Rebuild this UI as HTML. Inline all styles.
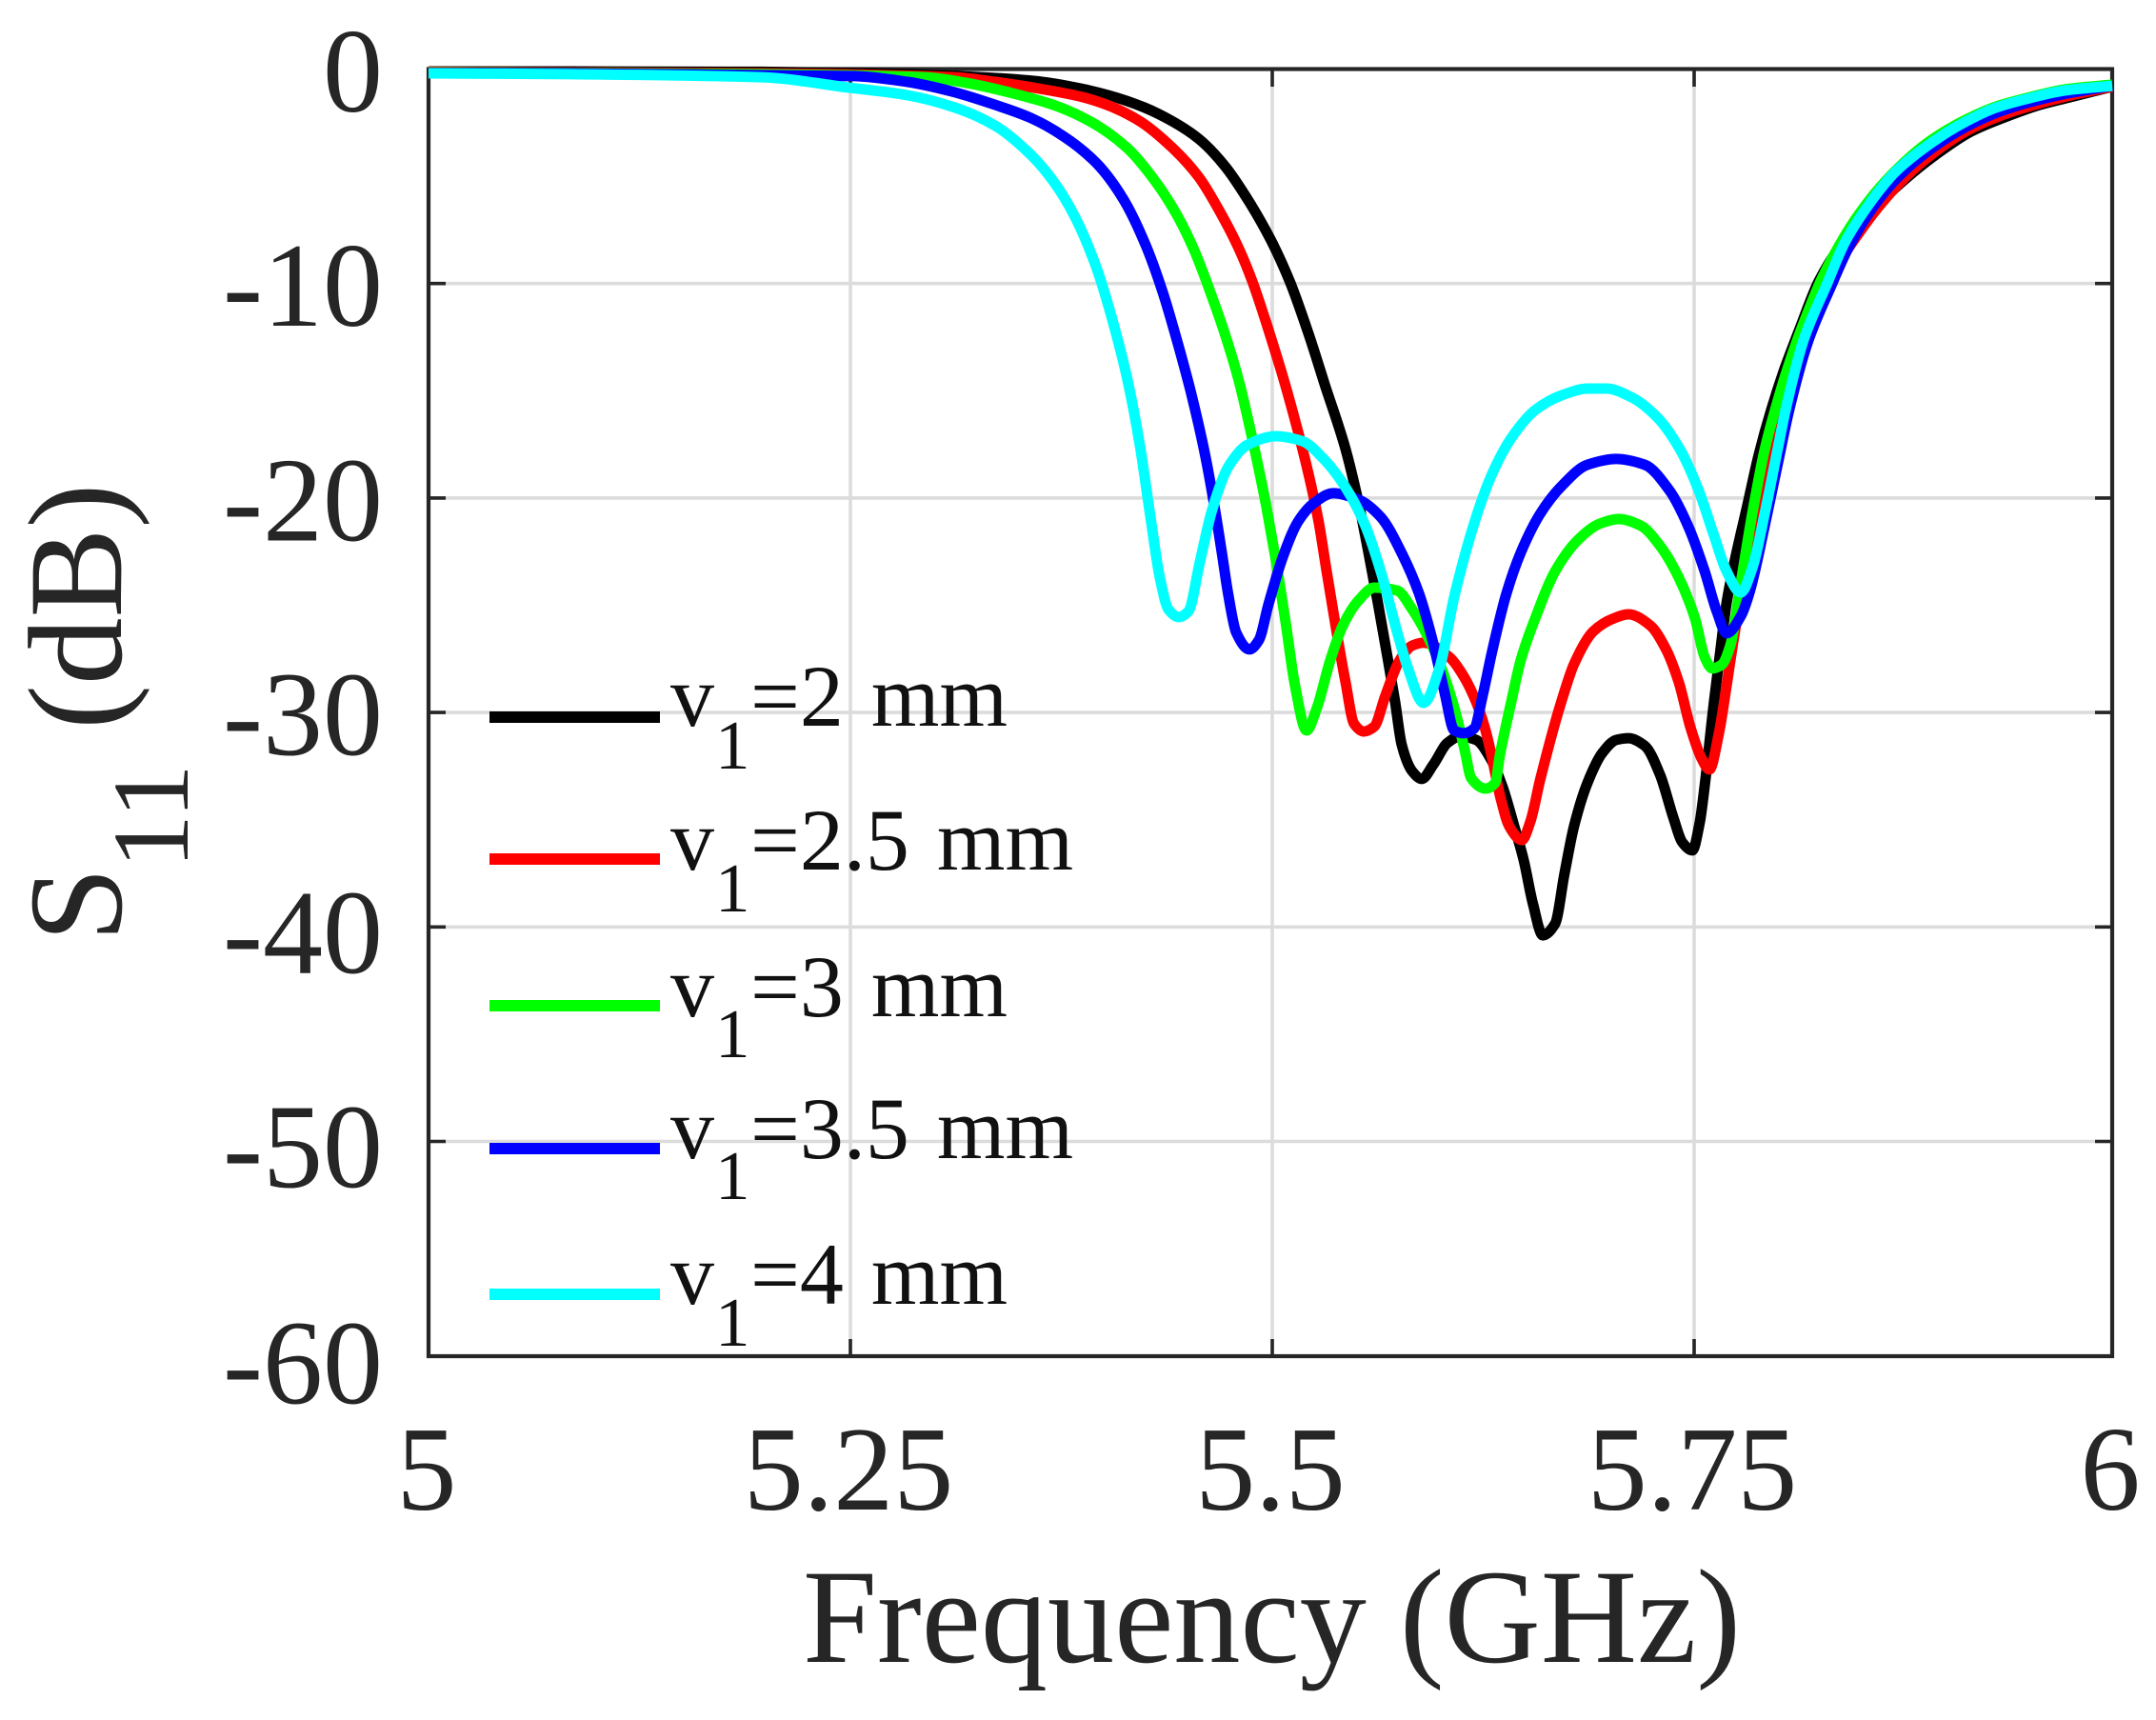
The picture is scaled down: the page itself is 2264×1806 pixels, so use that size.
<!DOCTYPE html>
<html>
<head>
<meta charset="utf-8">
<title>S11 vs Frequency</title>
<style>
html,body{margin:0;padding:0;background:#fff;}
svg{display:block;}
text{font-family:"Liberation Serif","Times New Roman",serif;}
</style>
</head>
<body>
<svg id="chart" xmlns="http://www.w3.org/2000/svg" width="2264" height="1806" viewBox="0 0 2264 1806">
  <rect x="0" y="0" width="2264" height="1806" fill="#ffffff"/>
  <g id="grid"></g>
  <rect x="450" y="72.5" width="1768" height="1351.5" fill="none" stroke="#262626" stroke-width="4.2"/>
  <g id="ticks"></g>
  <g id="tick-labels"></g>
  <g id="series"></g>

  <text x="843" y="1745" font-size="141" fill="#262626" textLength="985" lengthAdjust="spacingAndGlyphs">Frequency (GHz)</text>
  <text transform="translate(127,989) rotate(-90)" font-size="141" fill="#262626">S</text>
  <text transform="translate(197,912) rotate(-90)" font-size="114" fill="#262626">11</text>
  <text transform="translate(127,766) rotate(-90)" font-size="141" fill="#262626">(dB)</text>

  <g>
    <g>
      <rect x="514" y="747" width="179" height="12" fill="#000000"/>
      <text font-size="92" fill="#111" x="704" y="762">v</text>
      <text font-size="73" fill="#111" x="751" y="807">1</text>
      <text font-size="92" fill="#111" x="788" y="762" word-spacing="6">=2 mm</text>
    </g>
    <g>
      <rect x="514" y="896" width="179" height="12" fill="#ff0000"/>
      <text font-size="92" fill="#111" x="704" y="913">v</text>
      <text font-size="73" fill="#111" x="751" y="957">1</text>
      <text font-size="92" fill="#111" x="788" y="913" word-spacing="6">=2.5 mm</text>
    </g>
    <g>
      <rect x="514" y="1050" width="179" height="12" fill="#00ff00"/>
      <text font-size="92" fill="#111" x="704" y="1067">v</text>
      <text font-size="73" fill="#111" x="751" y="1110">1</text>
      <text font-size="92" fill="#111" x="788" y="1067" word-spacing="6">=3 mm</text>
    </g>
    <g>
      <rect x="514" y="1200" width="179" height="12" fill="#0000ff"/>
      <text font-size="92" fill="#111" x="704" y="1216">v</text>
      <text font-size="73" fill="#111" x="751" y="1259">1</text>
      <text font-size="92" fill="#111" x="788" y="1216" word-spacing="6">=3.5 mm</text>
    </g>
    <g>
      <rect x="514" y="1353" width="179" height="12" fill="#00ffff"/>
      <text font-size="92" fill="#111" x="704" y="1369">v</text>
      <text font-size="73" fill="#111" x="751" y="1413">1</text>
      <text font-size="92" fill="#111" x="788" y="1369" word-spacing="6">=4 mm</text>
    </g>
  </g>
</svg>
<script>
const xTicks = [5, 5.25, 5.5, 5.75, 6];
const xTickLabels = ["5", "5.25", "5.5", "5.75", "6"];
const yTicks = [0, -10, -20, -30, -40, -50, -60];
const yTickLabels = ["0", "-10", "-20", "-30", "-40", "-50", "-60"];
const seriesNames = ["v1-2mm", "v1-2-5mm", "v1-3mm", "v1-3-5mm", "v1-4mm"];

const freqV2 = [
5,5.0846,5.1975,5.2624,5.3273,5.3595,5.3809,5.4029,5.4244,5.4413,
5.4565,5.4718,5.487,5.5,5.5107,5.5214,5.531,5.5435,5.5514,5.557,
5.5626,5.5683,5.5728,5.5767,5.583,5.5886,5.5954,5.6038,5.6112,5.6208,
5.6304,5.6366,5.6433,5.649,5.6546,5.6603,5.6676,5.6732,5.6789,5.6868,
5.6958,5.7038,5.7111,5.7207,5.7297,5.7376,5.7432,5.7489,5.7534,5.7563,
5.762,5.7648,5.7694,5.7745,5.7819,5.7887,5.7961,5.8035,5.8121,5.8246,
5.8389,5.8616,5.877,5.8941,5.9157,5.9374,5.9567,5.9772,6];
const s11V2 = [
-0.11,-0.11,-0.13,-0.2,-0.38,-0.56,-0.82,-1.22,-1.8,-2.46,
-3.26,-4.51,-6.28,-8.1,-9.97,-12.32,-14.68,-17.74,-20.32,-22.54,
-24.89,-27.42,-29.51,-31.5,-32.75,-33.1,-32.44,-31.42,-31.11,-31.28,
-32.3,-33.5,-35.28,-36.88,-38.97,-40.39,-39.85,-37.5,-35.28,-33.28,
-31.86,-31.28,-31.2,-31.55,-32.88,-34.88,-36.08,-36.43,-35.1,-33.41,
-29.42,-27.68,-24.89,-22.85,-20.32,-17.96,-15.88,-14.1,-12.32,-9.88,
-8.1,-6.19,-5.08,-4.02,-2.91,-2.2,-1.67,-1.27,-0.82];

const freqV25 = [
5,5.0846,5.1975,5.3121,5.3358,5.3617,5.3877,5.4046,5.4221,5.4413,
5.4565,5.4695,5.4802,5.4881,5.4966,5.5062,5.5158,5.5231,5.5277,5.5322,
5.5378,5.5435,5.5485,5.5542,5.5604,5.5671,5.5756,5.583,5.5897,5.605,
5.6134,5.6208,5.6264,5.6304,5.6349,5.6405,5.6479,5.6529,5.6586,5.6659,
5.6716,5.6789,5.6902,5.7015,5.7111,5.7241,5.7337,5.741,5.7477,5.7546,
5.7591,5.7648,5.7694,5.7733,5.7779,5.7847,5.7921,5.8001,5.8075,5.8161,
5.8297,5.8445,5.8599,5.8758,5.8929,5.9145,5.9356,5.9556,5.9755,6];
const s11V25 = [
-0.13,-0.16,-0.2,-0.38,-0.6,-0.91,-1.31,-1.75,-2.46,-3.71,
-5.04,-6.73,-8.37,-9.88,-11.88,-14.32,-17.07,-19.43,-21.2,-23.42,
-26.09,-28.62,-30.53,-30.89,-30.66,-29.2,-27.55,-26.88,-26.75,-27.42,
-28.31,-29.51,-30.84,-32.17,-33.86,-35.32,-35.95,-35.1,-33.19,-30.97,
-29.42,-27.73,-26.22,-25.64,-25.42,-25.95,-27.11,-28.62,-30.66,-32.17,
-32.66,-30.97,-28.75,-26.75,-24.53,-21.65,-18.54,-15.88,-13.88,-12.1,
-9.88,-8.1,-6.46,-5.08,-3.93,-2.82,-2.11,-1.62,-1.22,-0.82];

const freqV3 = [
5,5.0846,5.1975,5.2946,5.3183,5.3442,5.3702,5.3916,5.4137,5.4306,
5.4436,5.4543,5.4633,5.4718,5.4802,5.4881,5.4966,5.5023,5.5079,5.5135,
5.5203,5.5265,5.5344,5.5418,5.5514,5.5604,5.5739,5.583,5.5926,5.5999,
5.6078,5.614,5.6179,5.6264,5.6321,5.6349,5.6416,5.6473,5.6563,5.6676,
5.6811,5.6941,5.7054,5.7184,5.7297,5.741,5.7506,5.7563,5.7608,5.7665,
5.7716,5.7779,5.7847,5.7921,5.8001,5.8075,5.8138,5.8257,5.836,5.8485,
5.8651,5.8895,5.91,5.9305,5.951,5.9715,6];
const s11V3 = [
-0.16,-0.18,-0.24,-0.38,-0.64,-1.09,-1.67,-2.42,-3.66,-5.22,
-6.82,-8.55,-10.41,-12.32,-14.54,-17.21,-20.45,-22.98,-25.78,-28.75,
-30.84,-29.77,-27.55,-25.95,-24.75,-24.18,-24.31,-25.2,-26.53,-27.86,
-29.77,-31.73,-33.06,-33.55,-33.28,-31.99,-29.51,-27.55,-25.51,-23.42,
-21.96,-21.2,-20.98,-21.29,-22.22,-23.73,-25.64,-27.42,-27.95,-27.77,
-26.89,-23.96,-20.76,-17.78,-15.43,-13.57,-12.19,-9.88,-8.33,-6.77,
-5.17,-3.44,-2.46,-1.75,-1.31,-0.95,-0.73];

const freqV35 = [
5,5.0846,5.1975,5.2517,5.2839,5.3098,5.3358,5.3572,5.377,5.3962,
5.4114,5.4244,5.4351,5.4458,5.4515,5.4599,5.4656,5.4701,5.474,5.4786,
5.4865,5.4921,5.4977,5.5062,5.5152,5.5248,5.5361,5.5514,5.5643,5.5773,
5.5869,5.5942,5.6021,5.6078,5.6134,5.6196,5.6247,5.6304,5.6388,5.6473,
5.6586,5.6716,5.6868,5.7038,5.7207,5.7354,5.7466,5.7563,5.7637,5.7694,
5.7779,5.783,5.7921,5.8001,5.8069,5.8178,5.832,5.8423,5.8571,5.873,
5.8912,5.9117,5.9328,5.9533,5.9738,6];
const s11V35 = [
-0.18,-0.2,-0.29,-0.33,-0.6,-1.04,-1.67,-2.29,-3.17,-4.42,
-6.02,-8.1,-10.41,-13.3,-14.99,-17.87,-20.32,-22.54,-24.53,-26.27,
-27.06,-26.62,-24.98,-22.76,-21.11,-20.23,-19.78,-20.09,-20.89,-22.67,
-24.44,-26.4,-29.06,-30.84,-30.97,-30.75,-29.2,-27.11,-24.44,-22.54,
-20.76,-19.43,-18.45,-18.18,-18.45,-19.65,-21.34,-23.42,-25.33,-26.31,
-25.51,-24.44,-21.34,-18.36,-15.88,-12.77,-10.1,-8.33,-6.42,-4.95,
-3.75,-2.73,-1.98,-1.49,-1.13,-0.78];

const freqV4 = [
5,5.0846,5.1975,5.2494,5.2839,5.3121,5.3358,5.3572,5.3702,5.3832,
5.3962,5.4046,5.4137,5.4215,5.4278,5.4334,5.4385,5.4447,5.4503,5.4571,
5.4644,5.474,5.4853,5.5023,5.5175,5.5305,5.5435,5.5547,5.5643,5.5739,
5.5801,5.5897,5.5993,5.6078,5.6208,5.6304,5.6416,5.6563,5.6716,5.6868,
5.6981,5.7128,5.728,5.741,5.7523,5.762,5.7694,5.7779,5.7847,5.7921,
5.8001,5.8047,5.8155,5.8297,5.84,5.8548,5.8707,5.8895,5.91,5.9305,
5.951,5.9715,6];
const s11V4 = [
-0.2,-0.24,-0.38,-0.87,-1.22,-1.8,-2.64,-4.02,-5.22,-6.91,
-9.35,-11.52,-14.32,-17.52,-20.89,-23.73,-25.2,-25.55,-25.29,-22.98,
-20.54,-18.54,-17.52,-17.12,-17.34,-18.18,-19.52,-21.2,-23.42,-26.22,
-27.86,-29.55,-27.86,-24.62,-20.89,-18.85,-17.21,-15.87,-15.21,-14.9,
-14.9,-15.3,-16.23,-17.65,-19.56,-21.78,-23.42,-24.4,-23.29,-20.76,
-17.65,-15.88,-12.63,-9.97,-8.1,-6.28,-4.77,-3.57,-2.55,-1.8,
-1.35,-1,-0.78];

const seriesColors = ["#000000", "#ff0000", "#00ff00", "#0000ff", "#00ffff"];
const seriesFreqs = [freqV2, freqV25, freqV3, freqV35, freqV4];
const seriesValues = [s11V2, s11V25, s11V3, s11V35, s11V4];

const NS = "http://www.w3.org/2000/svg";
function xScale(f) {
  return f <= 5.75 ? 450 + (f - 5) * 1772 : 1779 + (f - 5.75) * 1756;
}
function yScale(db) {
  return 72.5 - db * 22.52;
}
function yLabelOffset(t) {
  if (t <= -60) return 50;
  if (t <= -40) return 48;
  return 44.5;
}
function make(parent, tag, props) {
  const el = document.createElementNS(NS, tag);
  for (const k in props) el.setAttribute(k, props[k]);
  parent.appendChild(el);
  return el;
}
const gridG = document.getElementById("grid");
const tickG = document.getElementById("ticks");
const labelG = document.getElementById("tick-labels");
const seriesG = document.getElementById("series");

xTicks.forEach(function (t, i) {
  const x = xScale(t);
  if (i > 0 && i < xTicks.length - 1) {
    const g = make(gridG, "line", {x1: x, x2: x, y1: 72.5, y2: 1424, stroke: "#dcdcdc", "stroke-width": 3.6});
    
    
    const t1 = make(tickG, "line", {x1: x, x2: x, y1: 72.5, y2: 91, stroke: "#262626", "stroke-width": 3.6});
    
    
    const t2 = make(tickG, "line", {x1: x, x2: x, y1: 1406, y2: 1424, stroke: "#262626", "stroke-width": 3.6});
    
    
  }
  const lab = make(labelG, "text", {x: x - 2, y: 1585, "text-anchor": "middle", "font-size": 126, fill: "#262626"});
  lab.textContent = xTickLabels[i];
  
  
});

yTicks.forEach(function (t, i) {
  const y = yScale(t);
  if (i > 0 && i < yTicks.length - 1) {
    const g = make(gridG, "line", {x1: 450, x2: 2218, y1: y, y2: y, stroke: "#dcdcdc", "stroke-width": 3.6});
    
    
    const t1 = make(tickG, "line", {x1: 450, x2: 468, y1: y, y2: y, stroke: "#262626", "stroke-width": 3.6});
    
    
    const t2 = make(tickG, "line", {x1: 2200, x2: 2218, y1: y, y2: y, stroke: "#262626", "stroke-width": 3.6});
    
    
  }
  const lab = make(labelG, "text", {x: 402, y: y + yLabelOffset(t), "text-anchor": "end", "font-size": 126, fill: "#262626"});
  lab.textContent = yTickLabels[i];
  
  
});

function smoothPath(px, py) {
  const n = px.length, h = [], d = [], m = [];
  for (let i = 0; i < n - 1; i++) {
    h[i] = px[i + 1] - px[i];
    d[i] = (py[i + 1] - py[i]) / h[i];
  }
  m[0] = d[0];
  m[n - 1] = d[n - 2];
  for (let i = 1; i < n - 1; i++) {
    if (d[i - 1] * d[i] <= 0) { m[i] = 0; continue; }
    const w1 = 2 * h[i] + h[i - 1], w2 = h[i] + 2 * h[i - 1];
    m[i] = (w1 + w2) / (w1 / d[i - 1] + w2 / d[i]);
  }
  let path = "M" + px[0].toFixed(1) + " " + py[0].toFixed(1);
  for (let i = 0; i < n - 1; i++) {
    const c1x = px[i] + h[i] / 3, c1y = py[i] + m[i] * h[i] / 3;
    const c2x = px[i + 1] - h[i] / 3, c2y = py[i + 1] - m[i + 1] * h[i] / 3;
    path += "C" + c1x.toFixed(1) + " " + c1y.toFixed(1) + " " + c2x.toFixed(1) + " " + c2y.toFixed(1) + " " + px[i + 1].toFixed(1) + " " + py[i + 1].toFixed(1);
  }
  return path;
}

seriesValues.forEach(function (vals, s) {
  const px = seriesFreqs[s].map(xScale);
  const py = vals.map(yScale);
  const line = make(seriesG, "path", {d: smoothPath(px, py), fill: "none", stroke: seriesColors[s], "stroke-width": 11, "stroke-linejoin": "round", "stroke-linecap": "butt"});
  
  
});
</script>
</body>
</html>
